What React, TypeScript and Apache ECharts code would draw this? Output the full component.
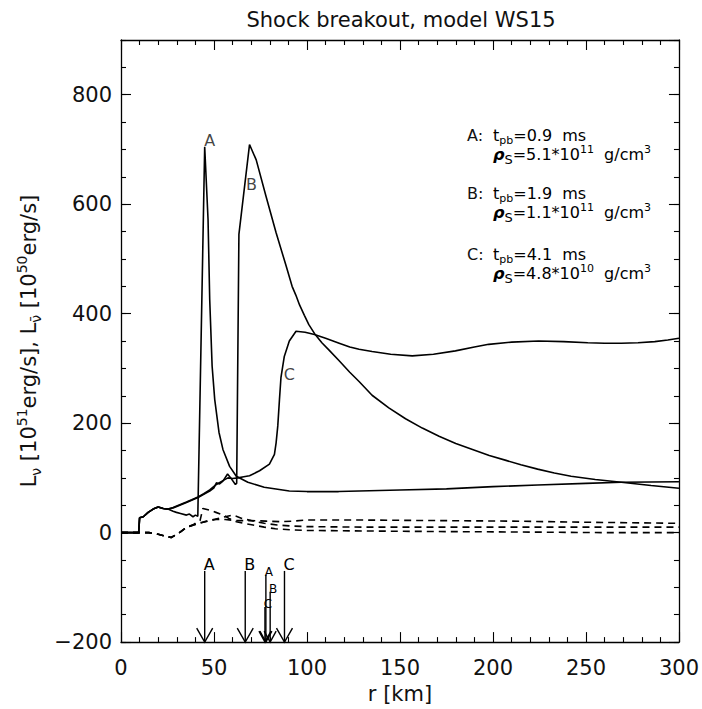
import { useEffect, useRef } from "react";
import * as echarts from "echarts";

const FONT = "'DejaVu Sans', 'Liberation Sans', sans-serif";
const INK = "#111";

const X_MIN = 0;
const X_MAX = 300;
const X_MAJOR = 50;
const Y_MIN = -200;
const Y_MAX = 900;
const Y_MAJOR = 200;
const Y_MINOR = 50;

// L_nu (solid) for snapshots A, B, C
const solidA: [number, number][] = [
  [0, 0], [9.5, 0], [10, 27], [12, 29], [14.6, 37], [17.3, 43], [20, 47], [22.7, 44], [25.3, 43],
  [28, 39], [29.8, 37], [32, 35], [35.2, 32], [36.8, 34], [38.7, 29], [40, 32], [41.3, 30],
  [45, 705], [46.8, 572], [47.7, 426], [49, 304], [50.4, 243], [52.7, 183], [54.8, 152],
  [58.4, 121], [62, 103], [68.2, 92], [77, 83], [90.5, 76], [100, 75], [117, 75], [150, 78],
  [175, 80], [200, 84], [224, 87], [250, 90], [269, 92], [300, 93],
];
const solidB: [number, number][] = [
  [0, 0], [9.5, 0], [10, 27], [12, 29], [14.6, 37], [17.3, 43], [20, 47], [22.7, 44], [25.3, 43],
  [28, 45], [31.6, 50], [35.2, 55], [38, 59], [41.4, 64], [44.5, 70], [47.7, 76], [50, 82],
  [51.3, 91], [53, 89], [54.8, 94], [57.3, 107], [59, 100], [61.5, 88], [62.2, 90], [63.4, 545],
  [69.1, 709], [72.7, 681], [78, 614], [83.4, 548], [88.8, 487], [92, 450], [94, 434],
  [96, 416], [98.6, 397], [101, 380], [104, 364], [108, 347], [112, 333], [117.3, 314],
  [123, 293], [128, 276], [135, 251], [144, 228], [153, 208], [162, 191], [171, 176],
  [180, 163], [189, 152], [198, 141], [207, 132], [215, 124], [224, 116], [233, 109],
  [242, 103], [255, 97], [269, 92], [285, 86], [300, 81],
];
const solidC: [number, number][] = [
  [0, 0], [9.5, 0], [10, 27], [12, 29], [14.6, 37], [17.3, 43], [20, 47], [22.7, 44], [25.3, 43],
  [28, 46], [31.6, 51], [35.2, 56], [38, 60], [41.4, 65], [44.5, 71], [47.7, 78], [51.3, 88],
  [54.8, 95], [57.5, 100], [60, 99], [62.9, 100], [66, 102], [69.1, 104], [74.5, 113],
  [79.8, 125], [82.5, 143], [83.4, 164], [84.3, 195], [85.2, 243], [86, 283], [87.8, 322],
  [90.5, 350], [94.1, 368], [99, 366], [104, 362], [110, 355], [117.3, 346], [123, 339],
  [128, 335], [135, 331], [145, 326], [156.6, 323], [168, 326], [179.8, 332], [190, 339],
  [197.7, 344], [210, 348], [224.5, 350], [238, 349], [251, 347], [260, 346], [269, 346],
  [278, 347], [287, 349], [294, 352], [300, 355],
];

// L_nu-bar (dashed) for snapshots A, B, C
const dashA: [number, number][] = [
  [0, 0], [15, 0], [20, -3], [27, -9], [31, -1], [35, 9], [39, 15], [42.5, 22], [44, 44],
  [47.7, 41], [51, 37], [55, 32], [58, 26], [62, 20], [66, 17], [71, 14], [77, 10], [83, 7],
  [92, 5], [100, 4], [130, 3], [170, 2], [220, 1], [260, 0], [300, 0],
];
const dashB: [number, number][] = [
  [0, 0], [15, 0], [20, -3], [27, -9], [31, -1], [35, 9], [39, 14], [43, 18], [46, 21],
  [51, 25], [56, 29], [60, 32], [62, 30], [65, 26], [70, 22], [77, 17], [84, 14], [92, 12],
  [100, 11], [130, 10], [170, 10], [210, 10], [250, 10], [300, 10],
];
const dashC: [number, number][] = [
  [0, 0], [15, 0], [20, -3], [27, -9], [31, -1], [35, 9], [39, 14], [43, 18], [47, 21],
  [51, 24], [56, 24], [62, 22], [70, 22], [78, 21], [86, 20], [92, 21], [100, 23], [130, 23],
  [170, 22], [210, 21], [250, 19], [300, 17],
];

// shock (big) and neutrinosphere (small) arrows
const arrowR = [45, 66.8, 87.9, 77.9, 80.2, 77.4];
const arrowTop = [-70, -70, -70, -77, -108, -136];
const arrowLabels = ["A", "B", "C", "A", "B", "C"];
const arrowBig = [true, true, true, false, false, false];

// curve tags
const curveLabelR = [47.7, 70.2, 90.5];
const curveLabelL = [716, 636, 289];
const curveLabelText = ["A", "B", "C"];

// legend text
const legendTags = ["A", "B", "C"];
const legendTpb = ["0.9", "1.9", "4.1"];
const legendRhoMant = ["5.1", "1.1", "4.8"];
const legendRhoExp = ["11", "11", "10"];

const TITLE = "Shock breakout, model WS15";
const X_NAME = "r [km]";

export default function App() {
  const ref = useRef<HTMLDivElement>(null);

  useEffect(() => {
    if (!ref.current) return;
    const chart = echarts.init(ref.current, null, { renderer: "svg" });

    const axisLine = { show: true, onZero: false, lineStyle: { color: "#000", width: 1.3 } };
    const tickLong = { show: true, inside: true, length: 10, lineStyle: { color: "#000", width: 1.1 } };
    const tickShort = { show: true, inside: true, length: 5, lineStyle: { color: "#000", width: 1.1 } };

    const rich1 = {
      n: { fontSize: 16, fontFamily: FONT, color: INK, lineHeight: 22 },
      sb: { fontSize: 11, fontFamily: FONT, color: INK, verticalAlign: "bottom" },
    };
    const rich2 = {
      n: { fontSize: 16, fontFamily: FONT, color: INK, lineHeight: 22 },
      ss: { fontSize: 13, fontFamily: FONT, color: INK, lineHeight: 18, verticalAlign: "bottom" },
      sp: { fontSize: 11, fontFamily: FONT, color: INK, verticalAlign: "top" },
      rho: { fontSize: 16, fontFamily: FONT, color: INK, lineHeight: 22, fontStyle: "italic", fontWeight: "bold" },
    };

    const legendY = [135, 193, 254];
    const legendGraphics: any[] = [];
    legendTags.forEach((tag, i) => {
      legendGraphics.push({
        type: "text",
        x: 467,
        y: legendY[i],
        style: { text: tag + ":", fontSize: 16, fontFamily: FONT, fill: INK, align: "left", verticalAlign: "middle" },
      });
      legendGraphics.push({
        type: "text",
        x: 493,
        y: legendY[i],
        style: {
          text: `{n|t}{sb|pb}{n|=${legendTpb[i]}\u00a0\u00a0ms}`,
          rich: rich1,
          align: "left",
          verticalAlign: "middle",
        },
      });
      legendGraphics.push({
        type: "text",
        x: 493,
        y: legendY[i] + 19.5,
        style: {
          text: `{rho|ρ}{ss|S}{n|=${legendRhoMant[i]}*10}{sp|${legendRhoExp[i]}}{n|\u00a0\u00a0g/cm}{sp|3}`,
          rich: rich2,
          align: "left",
          verticalAlign: "middle",
        },
      });
    });

    const lineSeries = (data: [number, number][], dashed: boolean) => ({
      type: "line",
      data,
      xAxisIndex: 0,
      yAxisIndex: 0,
      symbol: "none",
      smooth: false,
      clip: true,
      lineStyle: { color: "#000", width: 1.6, type: dashed ? [7, 5] : "solid" },
      z: 3,
    });

    const option: any = {
      animation: false,
      backgroundColor: "#fff",
      grid: { left: 121, right: 21, top: 40, bottom: 66, containLabel: false },
      graphic: [
        {
          type: "text",
          x: 401,
          y: 20,
          style: { text: TITLE, fontSize: 21, fontFamily: FONT, fill: INK, align: "center", verticalAlign: "middle" },
        },
        ...legendGraphics,
      ],
      xAxis: [
        {
          type: "value",
          position: "bottom",
          min: X_MIN,
          max: X_MAX,
          interval: X_MAJOR,
          axisLine,
          axisTick: tickLong,
          minorTick: { show: true, splitNumber: 5, length: 5, lineStyle: { color: "#000", width: 1.1 } },
          splitLine: { show: false },
          axisLabel: { fontSize: 21, fontFamily: FONT, color: INK, margin: 15 },
          name: X_NAME,
          nameLocation: "middle",
          nameGap: 36,
          nameTextStyle: { fontSize: 21, fontFamily: FONT, color: INK },
        },
        {
          type: "value",
          position: "top",
          min: X_MIN,
          max: X_MAX,
          interval: X_MAJOR,
          axisLine,
          axisTick: tickLong,
          minorTick: { show: true, splitNumber: 5, length: 5, lineStyle: { color: "#000", width: 1.1 } },
          splitLine: { show: false },
          axisLabel: { show: false },
        },
      ],
      yAxis: [
        {
          type: "value",
          position: "left",
          min: Y_MIN,
          max: Y_MAX,
          interval: Y_MAJOR,
          axisLine,
          axisTick: tickLong,
          splitLine: { show: false },
          axisLabel: {
            fontSize: 21,
            fontFamily: FONT,
            color: INK,
            margin: 9,
            showMaxLabel: false,
            formatter: (v: number) => (v < 0 ? "\u2212" + Math.abs(v) : String(v)),
          },
          name: "{n|L}{sb|ν}{n| [10}{sp|51}{n|erg/s], L}{sb|ν̄}{n| [10}{sp|50}{n|erg/s]}",
          nameLocation: "middle",
          nameRotate: 90,
          nameGap: 74,
          nameTextStyle: {
            rich: {
              n: { fontSize: 21, fontFamily: FONT, color: INK, lineHeight: 28 },
              sb: { fontSize: 14, fontFamily: FONT, color: INK, lineHeight: 14, verticalAlign: "bottom" },
              sp: { fontSize: 14, fontFamily: FONT, color: INK, lineHeight: 14, verticalAlign: "top" },
            },
          },
        },
        {
          type: "value",
          position: "left",
          min: Y_MIN,
          max: Y_MAX,
          interval: Y_MINOR,
          axisLine: { show: false, onZero: false },
          axisTick: tickShort,
          splitLine: { show: false },
          axisLabel: { show: false },
        },
        {
          type: "value",
          position: "right",
          min: Y_MIN,
          max: Y_MAX,
          interval: Y_MAJOR,
          axisLine,
          axisTick: tickLong,
          splitLine: { show: false },
          axisLabel: { show: false },
        },
        {
          type: "value",
          position: "right",
          min: Y_MIN,
          max: Y_MAX,
          interval: Y_MINOR,
          axisLine: { show: false, onZero: false },
          axisTick: tickShort,
          splitLine: { show: false },
          axisLabel: { show: false },
        },
      ],
      series: [
        lineSeries(solidA, false),
        lineSeries(solidB, false),
        lineSeries(solidC, false),
        lineSeries(dashA, true),
        lineSeries(dashB, true),
        lineSeries(dashC, true),
        {
          type: "scatter",
          xAxisIndex: 0,
          yAxisIndex: 0,
          symbolSize: 1,
          itemStyle: { color: "rgba(0,0,0,0)" },
          data: curveLabelR.map((r, i) => [r, curveLabelL[i]]),
          label: {
            show: true,
            position: "inside",
            fontSize: 16,
            fontFamily: FONT,
            color: INK,
            formatter: (p: any) => curveLabelText[p.dataIndex],
          },
          z: 5,
        },
        {
          type: "custom",
          xAxisIndex: 0,
          yAxisIndex: 0,
          data: arrowR.map((r, i) => [r, arrowTop[i]]),
          renderItem: (params: any, api: any) => {
            const i = params.dataIndex;
            const r = api.value(0);
            const top = api.value(1);
            const pTop = api.coord([r, top]);
            const pBot = api.coord([r, Y_MIN]);
            const big = arrowBig[i];
            const hw = big ? 8 : 6;
            const hh = big ? 14 : 11;
            return {
              type: "group",
              children: [
                {
                  type: "line",
                  shape: { x1: pTop[0], y1: pTop[1], x2: pBot[0], y2: pBot[1] },
                  style: { stroke: "#000", lineWidth: 1.4 },
                },
                {
                  type: "polyline",
                  shape: {
                    points: [
                      [pBot[0] - hw, pBot[1] - hh],
                      [pBot[0], pBot[1]],
                      [pBot[0] + hw, pBot[1] - hh],
                    ],
                  },
                  style: { stroke: "#000", fill: "none", lineWidth: 1.4 },
                },
                {
                  type: "text",
                  x: pTop[0] + (big ? 4.5 : 3),
                  y: pTop[1] - (big ? 6 : 3),
                  style: {
                    text: arrowLabels[i],
                    fontSize: big ? 16 : 12,
                    fontFamily: FONT,
                    fill: "#000",
                    align: "center",
                    verticalAlign: "middle",
                  },
                },
              ],
            };
          },
          z: 4,
        },
      ],
    };

    chart.setOption(option);
    return () => chart.dispose();
  }, []);

  return (
    <div
      ref={ref}
      style={{ position: "fixed", left: 0, top: 0, width: 702, height: 709, background: "#fff" }}
    />
  );
}
